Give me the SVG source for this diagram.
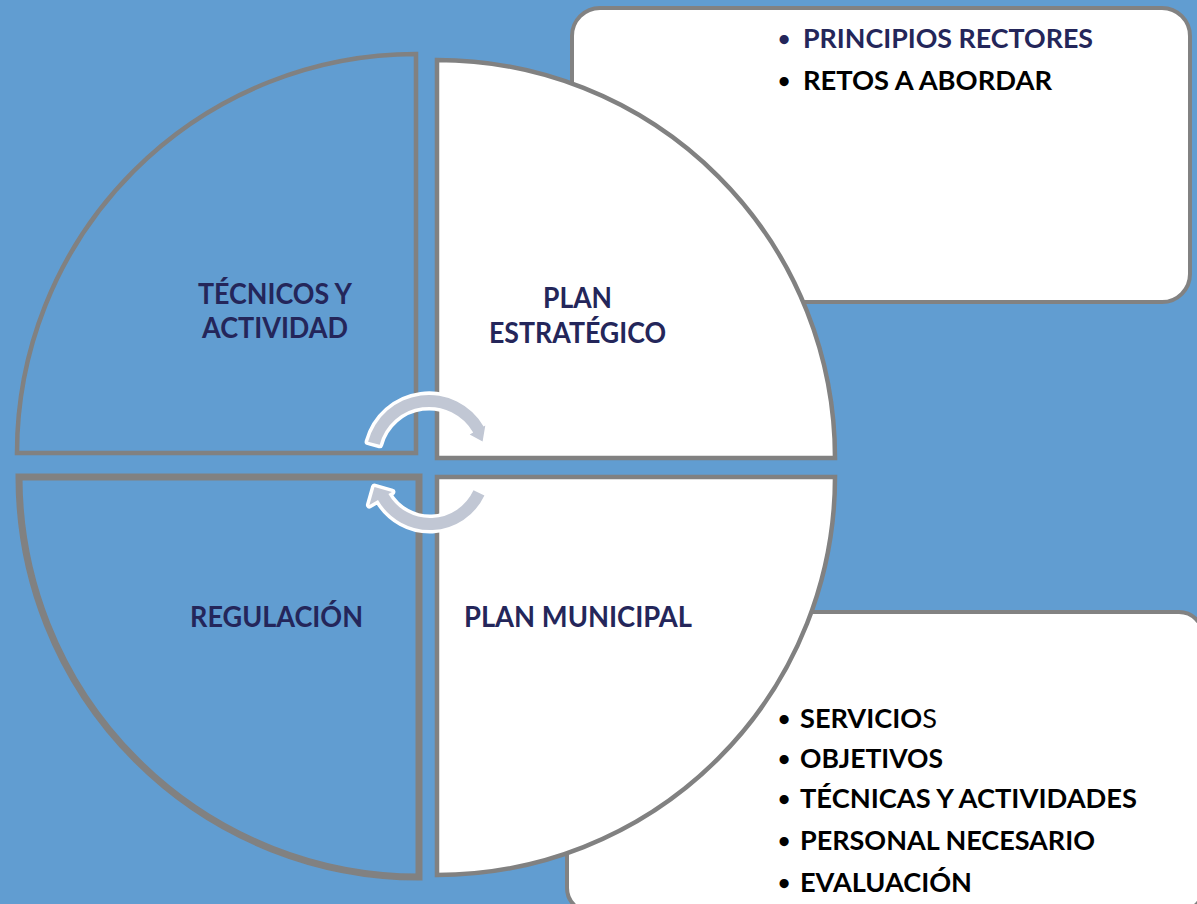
<svg xmlns="http://www.w3.org/2000/svg" width="1197" height="904" viewBox="0 0 1197 904">
  <style>
    .box { fill: #ffffff; stroke: #828282; stroke-width: 4; }
    .quad { stroke: #818181; stroke-width: 4.5; stroke-linejoin: miter; }
    .blue { fill: #619DD1; }
    .white { fill: #ffffff; }
    .lbl { font-family: Lato, "Open Sans", "Liberation Sans", sans-serif; font-weight: bold; font-size: 28.5px; fill: #24265A; }
    .item { font-family: Lato, "Open Sans", "Liberation Sans", sans-serif; font-weight: bold; font-size: 26.5px; fill: #000000; }
    .bul { font-family: Lato, "Open Sans", "Liberation Sans", sans-serif; font-weight: bold; font-size: 21px; fill: #000000; }
    .navy { fill: #24265A; }
    .arrow { fill: #C1C7D4; stroke: #ffffff; stroke-width: 7; stroke-linejoin: round; paint-order: stroke; }
  </style>
  <rect x="0" y="0" width="1197" height="904" fill="#619DD1"/>

  <g id="box-top">
    <rect class="box" x="572" y="8" width="618" height="294" rx="28" ry="28"/>
  </g>
  <g id="box-bottom">
    <rect class="box" x="567" y="612" width="636" height="300" rx="24" ry="24"/>
  </g>

  <g id="quad-tl">
    <path class="quad blue" d="M416 453 L17 453 A399 399 0 0 1 416 54 Z"/>
    <text class="lbl" x="275" y="304" text-anchor="middle" textLength="154" lengthAdjust="spacingAndGlyphs">TÉCNICOS Y</text>
    <text class="lbl" x="275" y="338" text-anchor="middle" textLength="146" lengthAdjust="spacingAndGlyphs">ACTIVIDAD</text>
  </g>
  <g id="quad-tr">
    <path class="quad white" d="M437 458 L437 60 A398 398 0 0 1 835 458 Z"/>
    <text class="lbl" x="577.5" y="308" text-anchor="middle" textLength="69" lengthAdjust="spacingAndGlyphs">PLAN</text>
    <text class="lbl" x="577.5" y="343" text-anchor="middle" textLength="177" lengthAdjust="spacingAndGlyphs">ESTRATÉGICO</text>
  </g>
  <g id="quad-bl">
    <path class="quad blue" style="stroke-width:7" d="M419 477 L419 877 A400 400 0 0 1 19 477 Z"/>
    <text class="lbl" x="276.5" y="627" text-anchor="middle" textLength="173" lengthAdjust="spacingAndGlyphs">REGULACIÓN</text>
  </g>
  <g id="quad-br">
    <path class="quad white" d="M437 477 L835 477 A398 398 0 0 1 437 875 Z"/>
    <text class="lbl" x="464" y="627" textLength="228" lengthAdjust="spacingAndGlyphs">PLAN MUNICIPAL</text>
  </g>

  <g id="connectors">
    <path class="arrow" d="M368.1 441.7 A63 63 0 0 1 483.6 426.5 L485.3 425.5 L482.6 441.6 L469.7 434.5 L473.2 432.5 A51 51 0 0 0 379.7 444.8 Z"/>
    <path class="arrow" d="M484.4 495.4 A60 60 0 0 1 378 500 L369.4 505 L374.5 487 L391.9 492 L388.4 494 A48 48 0 0 0 473.5 490.3 Z"/>
  </g>

  <g id="list-top">
    <text class="bul navy" x="778" y="46">•</text>
    <text class="item navy" x="803" y="48" textLength="290" lengthAdjust="spacingAndGlyphs">PRINCIPIOS RECTORES</text>
    <text class="bul" x="778" y="88">•</text>
    <text class="item" x="803" y="90" textLength="249" lengthAdjust="spacingAndGlyphs">RETOS A ABORDAR</text>
  </g>

  <g id="list-bottom">
    <text class="bul" x="778" y="726">•</text>
    <text class="item" x="800" y="728" textLength="137" lengthAdjust="spacingAndGlyphs">SERVICIO<tspan font-weight="normal">S</tspan></text>
    <text class="bul" x="778" y="766">•</text>
    <text class="item" x="800" y="768" textLength="143" lengthAdjust="spacingAndGlyphs">OBJETIVOS</text>
    <text class="bul" x="778" y="806">•</text>
    <text class="item" x="800" y="808" textLength="337" lengthAdjust="spacingAndGlyphs">TÉCNICAS Y ACTIVIDADES</text>
    <text class="bul" x="778" y="848">•</text>
    <text class="item" x="800" y="850" textLength="295" lengthAdjust="spacingAndGlyphs">PERSONAL NECESARIO</text>
    <text class="bul" x="778" y="890">•</text>
    <text class="item" x="800" y="892" textLength="172" lengthAdjust="spacingAndGlyphs">EVALUACIÓN</text>
  </g>
</svg>
